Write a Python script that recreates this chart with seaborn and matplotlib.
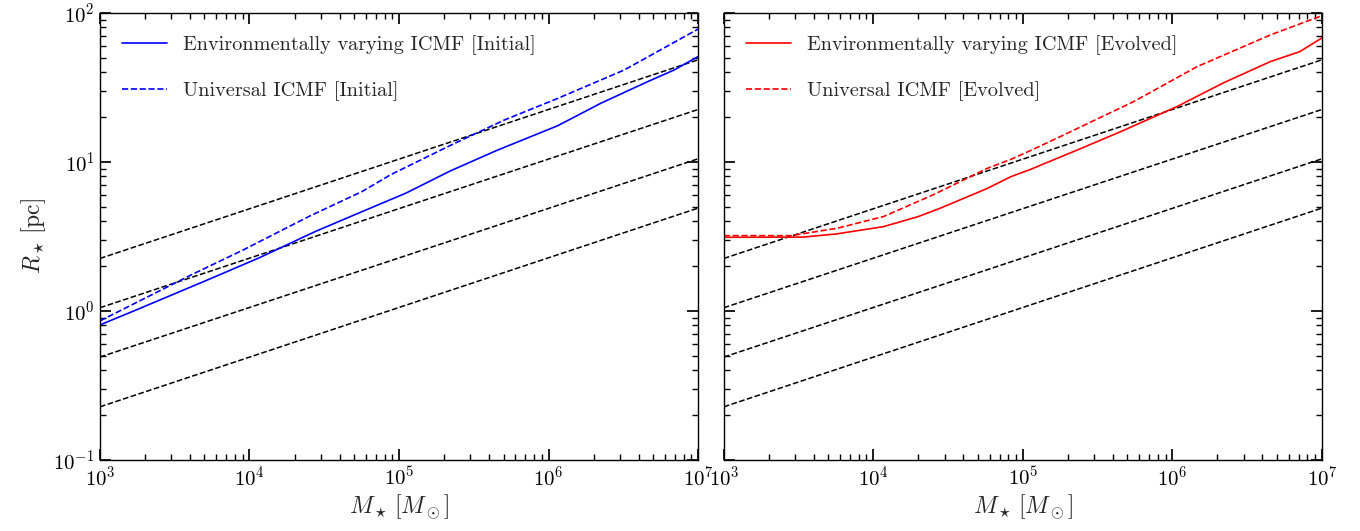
import numpy as np
import pandas as pd
import matplotlib
matplotlib.use("Agg")
import matplotlib.pyplot as plt
import seaborn as sns

# half-mass radius [pc] vs cluster mass [Msun]
m_env_initial = [1e3, 1.81e3, 5.6e3, 1.17e4, 2.75e4, 5.66e4, 1.11e5, 2.2e5, 4.55e5, 1.15e6, 2.24e6, 4.6e6, 6.9e6, 1e7]
r_env_initial = [0.805, 1.03, 1.66, 2.28, 3.41, 4.64, 6.17, 8.7, 12.0, 17.5, 24.8, 34.6, 41.4, 51.0]

m_uni_initial = [1e3, 4.1e3, 8.9e3, 2.49e4, 5.66e4, 8.77e4, 2.2e5, 5.05e5, 1.15e6, 3.2e6, 1e7]
r_uni_initial = [0.857, 1.75, 2.54, 4.3, 6.33, 8.2, 12.9, 19.1, 26.7, 41.4, 78.0]

m_env_evolved = [1e3, 3.4e3, 5.7e3, 1.17e4, 2.0e4, 2.8e4, 5.8e4, 8.3e4, 1.12e5, 2.3e5, 4.5e5, 1.07e6, 2.2e6, 4.5e6, 7.1e6, 1e7]
r_env_evolved = [3.12, 3.13, 3.29, 3.68, 4.3, 4.89, 6.65, 7.96, 8.9, 12.0, 15.96, 23.5, 34.0, 47.1, 55.0, 68.0]

m_uni_evolved = [1e3, 2.8e3, 5.75e3, 1.17e4, 2.5e4, 5.8e4, 8.3e4, 1.12e5, 1.78e5, 5.5e5, 1.46e6, 4.5e6, 1e7]
r_uni_evolved = [3.2, 3.2, 3.59, 4.3, 6.0, 9.07, 10.4, 11.9, 14.8, 25.4, 43.6, 71.1, 96.0]

# constant-density reference lines, R at the two ends of the mass range
ref_mass = [1e3, 1e7]
ref_r_lo = [2.25, 1.05, 0.49, 0.227]
ref_r_hi = [48.5, 22.5, 10.5, 4.9]

sns.set_theme(style="ticks")
plt.rcParams["font.family"] = ["cmr10", "DejaVu Serif"]
plt.rcParams["mathtext.fontset"] = "cm"
plt.rcParams["axes.formatter.use_mathtext"] = True
plt.rcParams["axes.unicode_minus"] = False
plt.rcParams.update({
    "xtick.direction": "in", "ytick.direction": "in",
    "xtick.top": True, "ytick.right": True,
    "xtick.major.size": 8, "ytick.major.size": 8,
    "xtick.minor.size": 4, "ytick.minor.size": 4,
    "xtick.minor.visible": True, "ytick.minor.visible": True,
    "axes.linewidth": 1.0, "axes.edgecolor": "black",
    "xtick.color": "black", "ytick.color": "black",
})

fig, axes = plt.subplots(1, 2, figsize=(13.6, 5.31), dpi=100, sharey=True)
fig.subplots_adjust(left=0.0735, right=0.972, top=0.9755, bottom=0.134, wspace=0.043)

panels = [
    (axes[0], m_env_initial, r_env_initial, m_uni_initial, r_uni_initial, "blue", "Initial"),
    (axes[1], m_env_evolved, r_env_evolved, m_uni_evolved, r_uni_evolved, "red", "Evolved"),
]

for ax, m_env, r_env, m_uni, r_uni, col, stage in panels:
    for lo, hi in zip(ref_r_lo, ref_r_hi):
        sns.lineplot(x=ref_mass, y=[lo, hi], ax=ax, color="black",
                     linestyle="--", linewidth=1.1, legend=False)
    sns.lineplot(x=m_env, y=r_env, ax=ax, color=col, linewidth=1.2,
                 label=f"Environmentally varying ICMF [{stage}]")
    sns.lineplot(x=m_uni, y=r_uni, ax=ax, color=col, linewidth=1.2, linestyle="--",
                 label=f"Universal ICMF [{stage}]")
    ax.set_xscale("log")
    ax.set_yscale("log")
    ax.set_xlim(1e3, 1e7)
    ax.set_ylim(0.1, 100)
    ax.tick_params(axis="both", which="major", labelsize=15, pad=4)
    ax.set_xlabel(r"$M_\star\,[M_\odot]$", fontsize=17, labelpad=2)
    ax.legend(loc="upper left", frameon=False, fontsize=14.6, handlelength=2.25,
              labelspacing=1.3, borderaxespad=0.68, handletextpad=0.75)

axes[0].set_ylabel(r"$R_\star\,[\mathrm{pc}]$", fontsize=17)
axes[1].set_ylabel("")
axes[1].tick_params(axis="y", which="both", labelleft=False)

fig.savefig("out.png", dpi=100)
